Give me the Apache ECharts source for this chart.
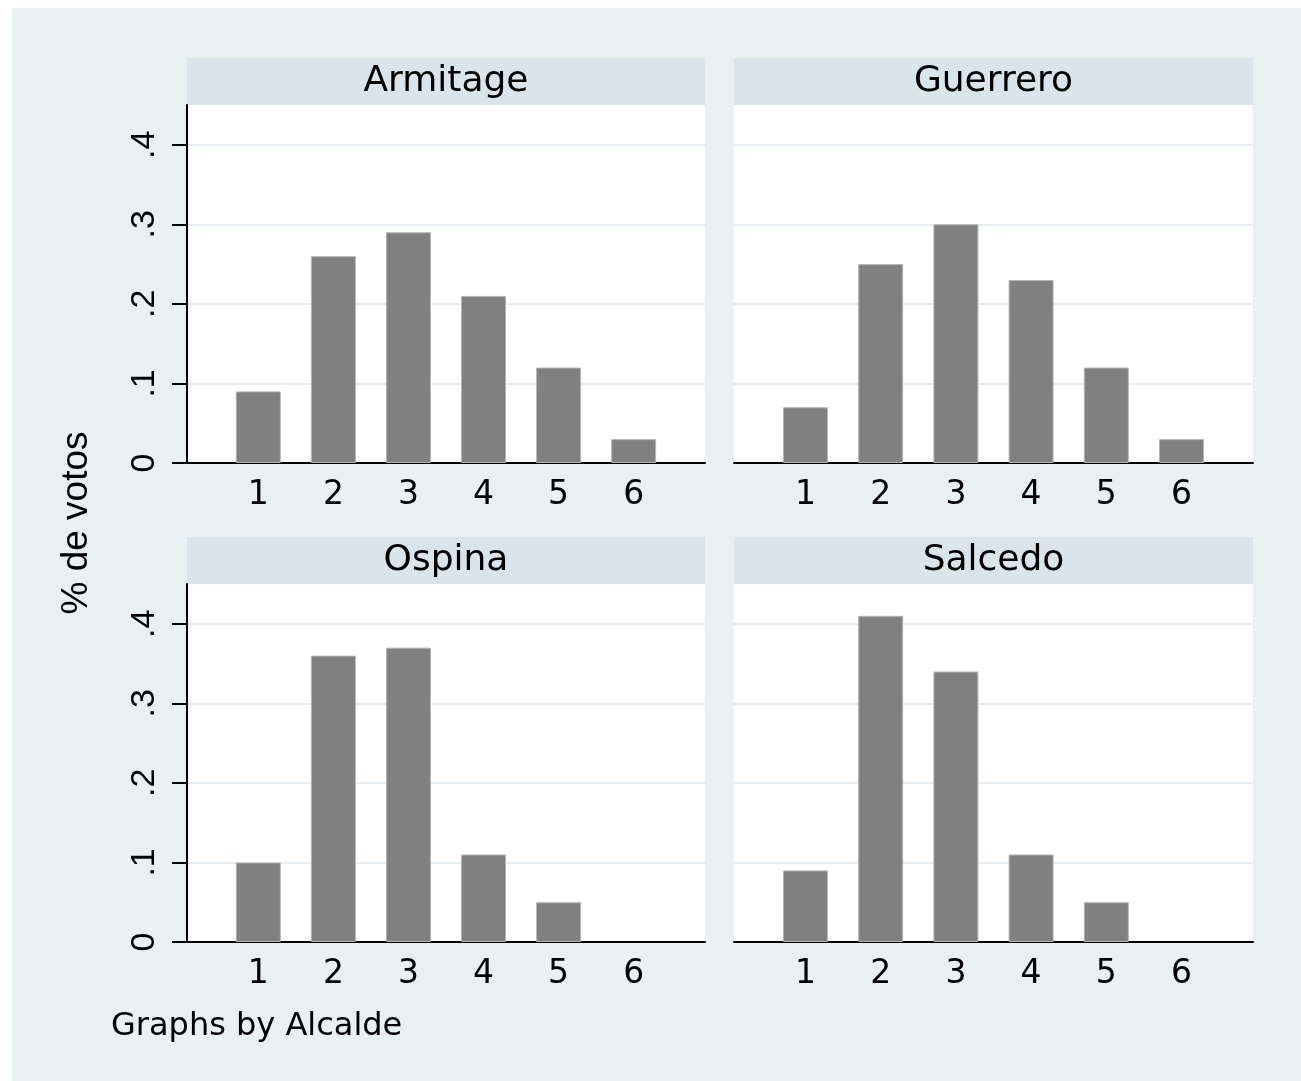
<!DOCTYPE html>
<html>
<head>
<meta charset="utf-8">
<script src="https://cdn.jsdelivr.net/npm/echarts@6/dist/echarts.min.js"></script>
<style>
html,body{margin:0;padding:0;background:#fff;}
#main{width:1301px;height:1081px;}
</style>
</head>
<body>
<div id="main"></div>
<script>
// datos: % de votos por alcalde y categoría 1-6
var alcaldes = ['Armitage', 'Guerrero', 'Ospina', 'Salcedo'];
var categorias = [1, 2, 3, 4, 5, 6];
var armitage = [0.09, 0.26, 0.29, 0.21, 0.12, 0.03];
var guerrero = [0.07, 0.25, 0.30, 0.23, 0.12, 0.03];
var ospina   = [0.10, 0.36, 0.37, 0.11, 0.05, 0];
var salcedo  = [0.09, 0.41, 0.34, 0.11, 0.05, 0];
var yTicks = [0, 0.1, 0.2, 0.3, 0.4];
var yTickLabels = ['0', '.1', '.2', '.3', '.4'];

var valores = [armitage, guerrero, ospina, salcedo];

var chart = echarts.init(document.getElementById('main'));

// posiciones de los paneles (izq, arriba)
var paneles = [
	{left: 187, top: 105, width: 518, leftCol: true},
	{left: 734, top: 105, width: 519, leftCol: false},
	{left: 187, top: 584, width: 518, leftCol: true},
	{left: 734, top: 584, width: 519, leftCol: false}
];
var plotH = 358, headH = 47;
var fontH = 'DejaVu Sans', fontV = 'Liberation Sans';

var grids = [], xAxes = [], yAxes = [], series = [], graficos = [];

graficos.push({type: 'rect', z: -10, shape: {x: 12, y: 8, width: 1289, height: 1073}, style: {fill: '#e8f0f2'}});

for (var i = 0; i < 4; i++) {
	var p = paneles[i];
	grids.push({left: p.left, top: p.top, width: p.width, height: plotH, backgroundColor: '#fff', show: true, borderWidth: 0});
	xAxes.push({
		type: 'value', gridIndex: i, min: 0.05, max: 6.95,
		axisLine: {show: true, onZero: false, lineStyle: {color: '#000', width: 2}},
		axisTick: {show: false},
		splitLine: {show: false},
		axisLabel: {customValues: categorias, margin: 16, color: '#000', fontSize: 33, fontFamily: fontH}
	});
	yAxes.push({
		type: 'value', gridIndex: i, min: 0, max: 0.45,
		axisLine: {show: p.leftCol, lineStyle: {color: '#000', width: 2}},
		axisTick: {show: p.leftCol, customValues: yTicks, length: 15, lineStyle: {color: '#000', width: 2}},
		axisLabel: {
			show: p.leftCol, customValues: yTicks, rotate: 90, margin: 25,
			color: '#000', fontSize: 34, fontFamily: fontV,
			formatter: function (v) { return yTickLabels[yTicks.indexOf(Math.round(v * 10) / 10)]; }
		},
		splitLine: {show: true, lineStyle: {color: '#e6eef1', width: 2}}
	});
	series.push({
		type: 'bar', xAxisIndex: i, yAxisIndex: i, barWidth: 45,
		itemStyle: {color: '#808080', borderColor: '#b4b4b4', borderWidth: 1},
		// una barra de altura 0 no se dibuja
		data: categorias.map(function (c, k) { return [c, valores[i][k] === 0 ? '-' : valores[i][k]]; })
	});
	graficos.push({type: 'rect', z: -5, shape: {x: p.left, y: p.top - headH, width: p.width, height: headH}, style: {fill: '#d9e5eb'}});
	graficos.push({type: 'text', z: 10, x: p.left + p.width / 2, y: p.top - headH / 2,
		style: {text: alcaldes[i], fill: '#000', font: '36px "' + fontH + '"', align: 'center', verticalAlign: 'middle'}});
}

graficos.push({type: 'text', z: 10, x: 77, y: 523, rotation: Math.PI / 2,
	style: {text: '% de votos', fill: '#000', font: '37px "' + fontV + '"', align: 'center', verticalAlign: 'middle'}});
graficos.push({type: 'text', z: 10, x: 111, y: 1027,
	style: {text: 'Graphs by Alcalde', fill: '#000', font: '32px "' + fontH + '"', align: 'left', verticalAlign: 'middle'}});

var option = {
	backgroundColor: '#fff',
	animation: false,
	grid: grids,
	xAxis: xAxes,
	yAxis: yAxes,
	series: series,
	graphic: graficos
};

chart.setOption(option);
</script>
</body>
</html>
